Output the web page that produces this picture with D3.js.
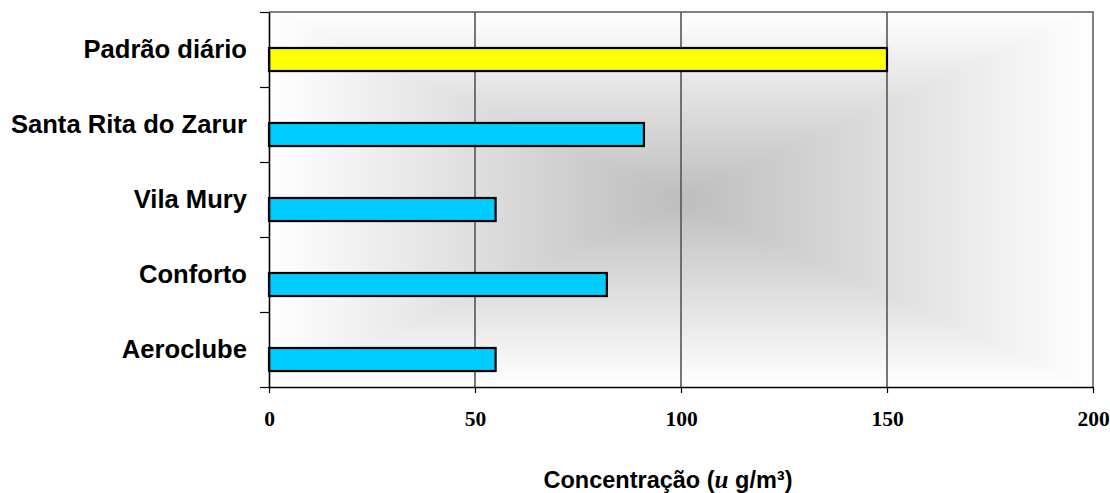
<!DOCTYPE html>
<html>
<head>
<meta charset="utf-8">
<script src="https://cdn.jsdelivr.net/npm/d3@7"></script>
<style>
  html, body { margin: 0; padding: 0; background: #ffffff; }
  svg { display: block; }
</style>
</head>
<body>
<svg id="chart" width="1110" height="493"></svg>
<script>
// Stations, listed top to bottom, with the daily standard first
const categories = ["Padrão diário", "Santa Rita do Zarur", "Vila Mury", "Conforto", "Aeroclube"];
const values = [150, 91, 55, 82, 55];
const standardLabel = "Padrão diário";
const xTicks = [0, 50, 100, 150, 200];
const xDomain = [0, 200];

const svg = d3.select("#chart");
const plot = { left: 269, right: 1093, top: 12, bottom: 387 };
const cx = (plot.left + plot.right) / 2;
const cy = (plot.top + plot.bottom) / 2;

const x = d3.scaleLinear().domain(xDomain).range([plot.left, plot.right]);
const y = d3.scaleBand().domain(categories).range([plot.top, plot.bottom]).padding(0);
const yEdges = d3.scaleLinear().domain([0, categories.length]).range([plot.top, plot.bottom]);

// Rectangular "from centre" shading: four triangles, each fading from white at its edge to grey in the middle
const defs = svg.append("defs");
const centreGrey = "#bdbdbd";
function fade(id, x1, y1, x2, y2) {
  const g = defs.append("linearGradient").attr("id", id)
    .attr("gradientUnits", "userSpaceOnUse")
    .attr("x1", x1).attr("y1", y1).attr("x2", x2).attr("y2", y2);
  g.append("stop").attr("offset", 0).attr("stop-color", "#ffffff");
  g.append("stop").attr("offset", 1).attr("stop-color", centreGrey);
}
fade("fadeTop", 0, plot.top, 0, cy);
fade("fadeBottom", 0, plot.bottom, 0, cy);
fade("fadeLeft", plot.left, 0, cx, 0);
fade("fadeRight", plot.right, 0, cx, 0);

const bg = svg.append("g");
const tri = (pts, fill) => bg.append("path")
  .attr("d", "M" + pts.map(p => p.join(",")).join("L") + "Z")
  .attr("fill", fill).attr("stroke", fill).attr("stroke-width", 0.5);
tri([[plot.left, plot.top], [plot.right, plot.top], [cx, cy]], "url(#fadeTop)");
tri([[plot.left, plot.bottom], [plot.right, plot.bottom], [cx, cy]], "url(#fadeBottom)");
tri([[plot.left, plot.top], [plot.left, plot.bottom], [cx, cy]], "url(#fadeLeft)");
tri([[plot.right, plot.top], [plot.right, plot.bottom], [cx, cy]], "url(#fadeRight)");

// Plot frame (top and right edges)
svg.append("path")
  .attr("d", `M${plot.left},${plot.top}H${plot.right}V${plot.bottom}`)
  .attr("fill", "none").attr("stroke", "#808080").attr("stroke-width", 2);

// Vertical gridlines
svg.append("g").selectAll("line")
  .data(xTicks.filter(t => t > xDomain[0] && t < xDomain[1]))
  .join("line")
  .attr("x1", d => x(d)).attr("x2", d => x(d))
  .attr("y1", plot.top).attr("y2", plot.bottom)
  .attr("stroke", "#555555").attr("stroke-width", 1.6);

// Bars
const barOffset = 0.48, barFrac = 0.307;
svg.append("g").selectAll("rect")
  .data(categories.map((c, i) => ({ c, v: values[i] })))
  .join("rect")
  .attr("x", x(0))
  .attr("y", d => y(d.c) + y.bandwidth() * barOffset)
  .attr("width", d => x(d.v) - x(0))
  .attr("height", y.bandwidth() * barFrac)
  .attr("fill", d => d.c === standardLabel ? "#ffff00" : "#00ccff")
  .attr("stroke", "#000000").attr("stroke-width", 2.2);

// Bottom axis
const xAxis = svg.append("g")
  .attr("transform", `translate(0,${plot.bottom})`)
  .call(d3.axisBottom(x).tickValues(xTicks).tickSize(6).tickSizeOuter(0));
xAxis.select(".domain").attr("stroke", "#000").attr("stroke-width", 1.6);
xAxis.selectAll(".tick line").attr("stroke", "#000").attr("stroke-width", 1.2);
xAxis.selectAll(".tick text")
  .attr("y", 39).attr("dy", null)
  .attr("fill", "#000")
  .style("font-family", "'Liberation Serif', 'Times New Roman', serif")
  .style("font-weight", "bold")
  .style("font-size", "21.5px");

// Left axis: ticks on the category boundaries
const yAxis = svg.append("g")
  .attr("transform", `translate(${plot.left},0)`)
  .call(d3.axisLeft(yEdges).tickValues(d3.range(categories.length + 1)).tickFormat("").tickSize(9).tickSizeOuter(0));
yAxis.select(".domain").attr("stroke", "#000").attr("stroke-width", 1.6);
yAxis.selectAll(".tick line").attr("stroke", "#000").attr("stroke-width", 1.2);

// Category labels
svg.append("g").selectAll("text")
  .data(categories)
  .join("text")
  .attr("x", 247)
  .attr("y", d => y(d) + y.bandwidth() / 2 + 8.5)
  .attr("text-anchor", "end")
  .style("font-family", "'Liberation Sans', Arial, sans-serif")
  .style("font-weight", "bold")
  .style("font-size", "25.6px")
  .attr("fill", "#000")
  .text(d => d);

// Axis title
const title = svg.append("text")
  .attr("x", 668).attr("y", 488)
  .attr("text-anchor", "middle")
  .style("font-family", "'Liberation Sans', Arial, sans-serif")
  .style("font-weight", "bold")
  .style("font-size", "23.5px")
  .attr("fill", "#000");
title.append("tspan").text("Concentração (");
title.append("tspan")
  .style("font-family", "'Liberation Serif', 'Times New Roman', serif")
  .style("font-style", "italic")
  .style("font-size", "25px")
  .text("u");
title.append("tspan").text(" g/m³)");
</script>
</body>
</html>
